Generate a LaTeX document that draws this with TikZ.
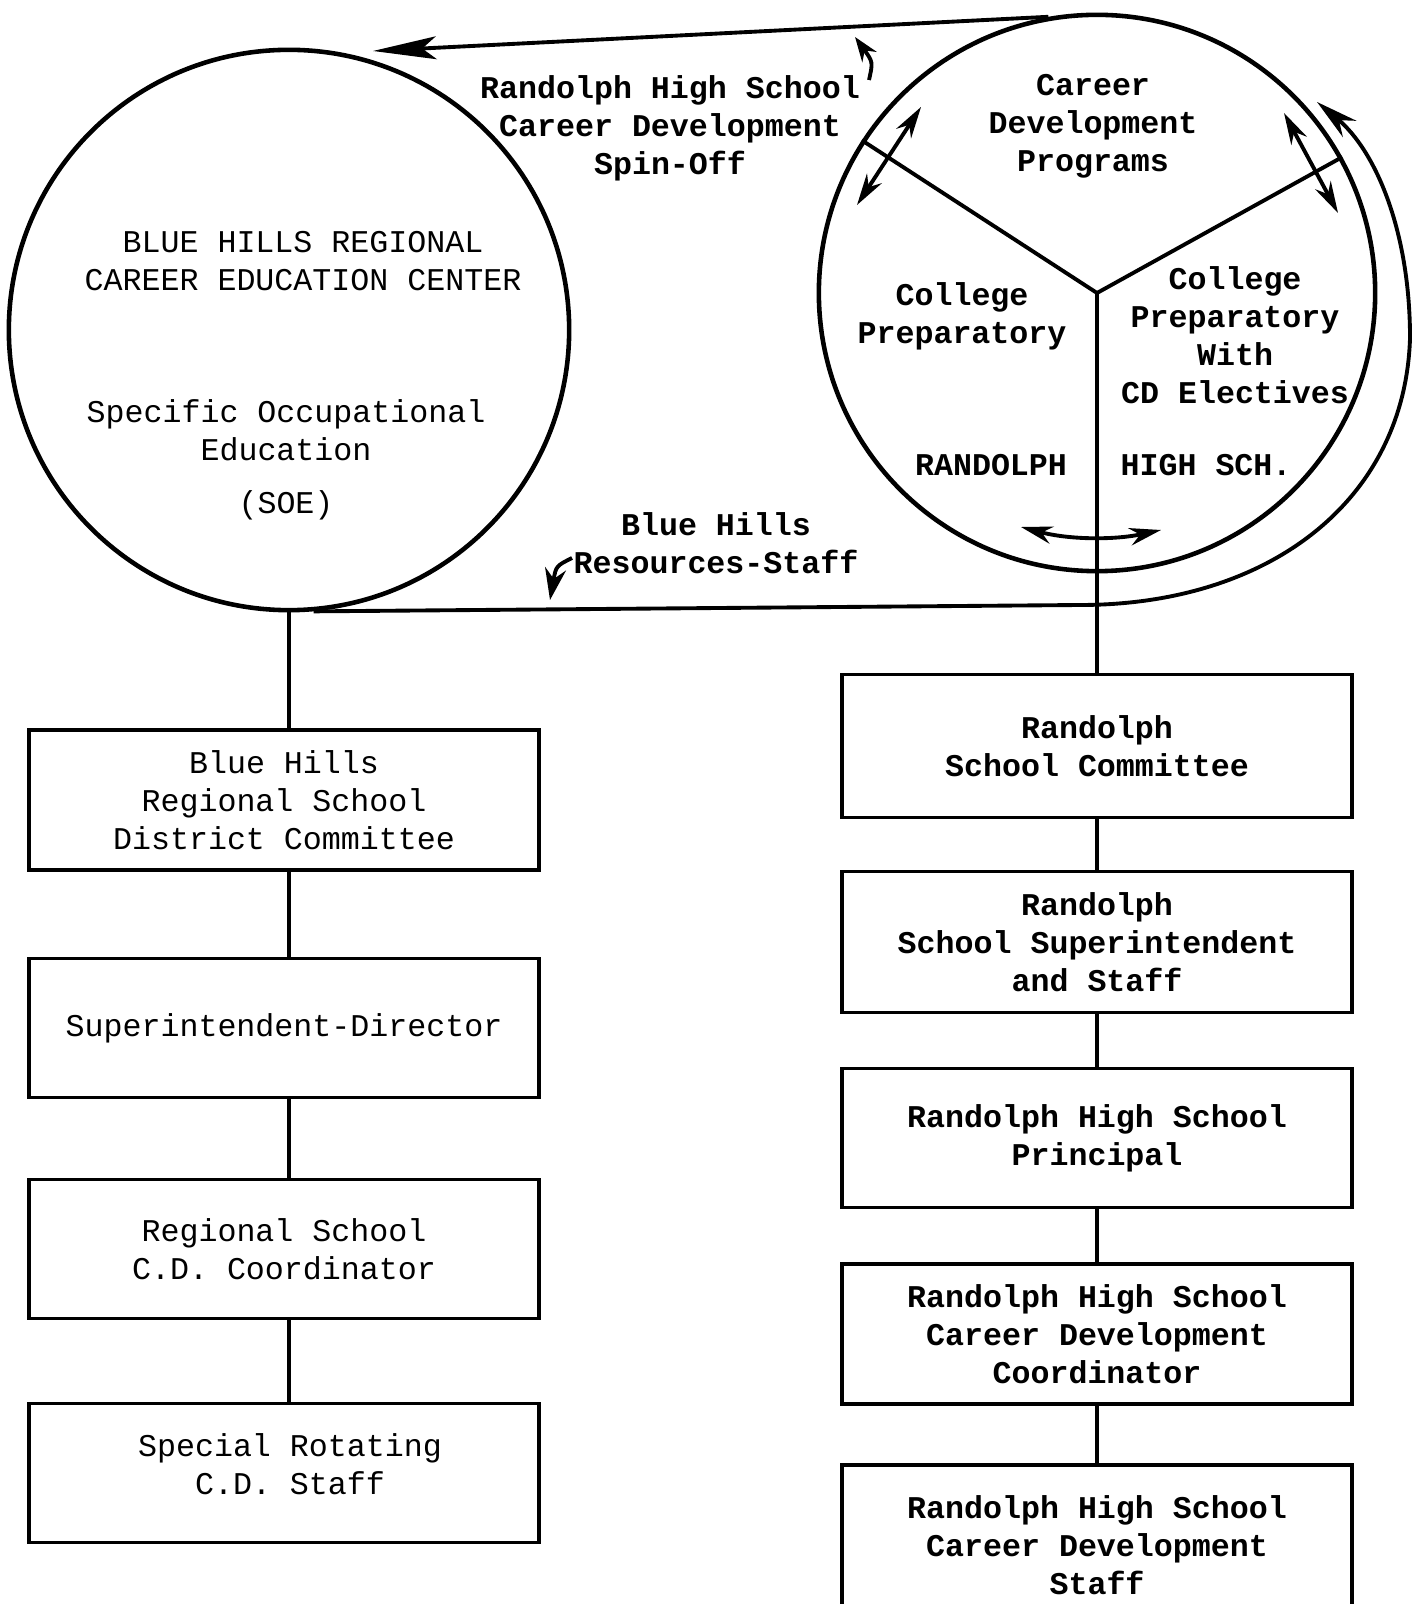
\documentclass[tikz,border=0pt]{standalone}
\usepackage{fontspec}
\setmonofont{Liberation Mono}
\usetikzlibrary{arrows.meta}

\tikzset{
  ring/.style={draw, circle, line width=1.3pt, inner sep=0pt},
  orgbox/.style={draw, line width=1.1pt, minimum width=5.1cm, minimum height=1.39cm, align=center, inner sep=2pt},
  lefttext/.style={font=\fontsize{9}{10.8}\selectfont\ttfamily, align=center},
  righttext/.style={font=\fontsize{9}{10.8}\selectfont\ttfamily\bfseries, align=center},
  twohead/.style={{Stealth[length=9pt,width=5pt]}-{Stealth[length=9pt,width=5pt]}},
}

\begin{document}
\begin{tikzpicture}[x=0.01cm, y=-0.01cm, line width=1.1pt]
\useasboundingbox (0,0) rectangle (1419,1604);

% the two centres
\node[ring, minimum size=5.6cm] (bhring) at (289,330) {};
\node[ring, minimum size=5.56cm] (rhring) at (1097,293) {};

\node[lefttext] (bhname) at (303,261) {BLUE HILLS REGIONAL\\CAREER EDUCATION CENTER};
\node[lefttext] (bhsoe) at (286,430) {Specific Occupational\\Education};
\node[lefttext] (bhsoeabbr) at (286,505) {(SOE)};

\node[righttext] (cdprog) at (1093,126) {Career\\Development\\Programs};
\node[righttext] (collprep) at (962,316) {College\\Preparatory};
\node[righttext] (cdelect) at (1235,335) {College\\Preparatory\\With\\CD Electives};
\node[righttext] (rhname) at (991,465) {RANDOLPH};
\node[righttext] (rhsch) at (1206,465) {HIGH SCH.};

% spokes of the right ring
\draw (rhring.center) -- (rhring.147);
\draw (rhring.center) -- (rhring.29);

\coordinate (lspokeA) at (857,205);
\coordinate (lspokeB) at (921,107);
\coordinate (rspokeA) at (1284,113);
\coordinate (rspokeB) at (1338,213);
\coordinate (botarrA) at (1021,527);
\coordinate (botarrB) at (1161,530);
\draw[twohead] (lspokeA) -- (lspokeB);
\draw[twohead] (rspokeA) -- (rspokeB);
\draw[twohead] (botarrA) .. controls (1070,540) and (1115,540) .. (botarrB);

% spin-off and resources flows
\node[righttext] (spinlabel) at (670,128) {Randolph High School\\Career Development\\Spin-Off};
\node[righttext] (reslabel) at (716,543) {Blue Hills\\Resources-Staff};

\coordinate (spinend) at (373,51);
\draw[-{Stealth[length=18pt,width=6.5pt,inset=4pt]}] (rhring.100) -- (spinend);
\coordinate (spintail) at (869,80);
\coordinate (spintip) at (855,37);
\draw[-{Stealth[length=7pt,width=5pt]}] (spintail) .. controls (873,62) .. (spintip);

\coordinate (restip) at (1317,102);
\draw[-{Stealth[length=12pt,width=6pt]}] (bhring.-85) -- (1080,605)
  .. controls (1270,605) and (1405,500) .. (1410,338)
  .. controls (1410,230) and (1375,150) .. (restip);
\coordinate (restail) at (572,558);
\coordinate (resdown) at (550,600);
\draw[-{Stealth[length=9pt,width=6pt]}] (restail) .. controls (556,566) .. (resdown);

% Blue Hills chain
\node[orgbox, lefttext, minimum height=1.40cm] (bhcomm) at (284,800) {Blue Hills\\Regional School\\District Committee};
\node[orgbox, lefttext] (bhsupt) at (284,1028) {Superintendent-Director};
\node[orgbox, lefttext] (bhcoord) at (284,1249) {Regional School\\C.D. Coordinator};
\node[orgbox] (bhstaff) at (284,1473) {};
\node[lefttext] (bhstafftxt) at (290,1464) {Special Rotating\\C.D. Staff};

\draw (bhring.south) -- (bhring.south |- bhcomm.north);
\draw (bhcomm.south -| bhring.south) -- (bhsupt.north -| bhring.south);
\draw (bhsupt.south -| bhring.south) -- (bhcoord.north -| bhring.south);
\draw (bhcoord.south -| bhring.south) -- (bhstaff.north -| bhring.south);

% Randolph chain
\node[orgbox, righttext, minimum height=1.43cm] (rhcomm) at (1097,746) {Randolph\\School Committee};
\node[orgbox, righttext, minimum height=1.41cm] (rhsupt) at (1097,942) {Randolph\\School Superintendent\\and Staff};
\node[orgbox, righttext] (rhprin) at (1097,1138) {Randolph High School\\Principal};
\node[orgbox, righttext, minimum height=1.40cm] (rhcoord) at (1097,1334) {Randolph High School\\Career Development\\Coordinator};
\node[orgbox, righttext, minimum height=1.6cm] (rhstaff) at (1097,1545) {Randolph High School\\Career Development\\Staff};

\draw (rhring.center) -- (rhcomm.north);
\draw (rhcomm) -- (rhsupt);
\draw (rhsupt) -- (rhprin);
\draw (rhprin) -- (rhcoord);
\draw (rhcoord) -- (rhstaff);
\end{tikzpicture}
\end{document}
